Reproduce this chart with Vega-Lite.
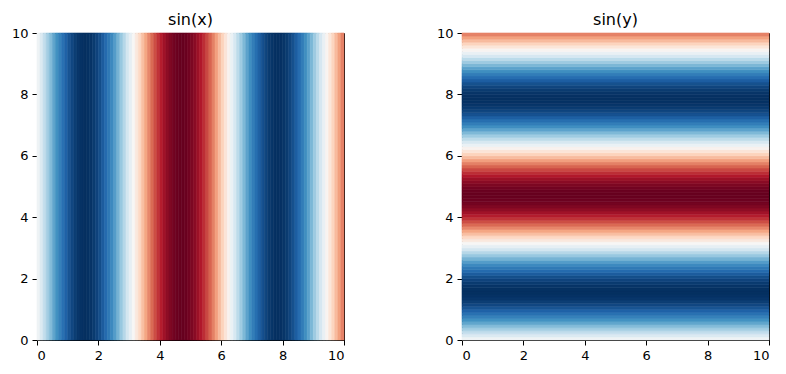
{
  "$schema": "https://vega.github.io/schema/vega-lite/v6.json",
  "background": "white",
  "padding": {"left": 10, "top": 11, "right": 18, "bottom": 8},
  "datasets": {
    "stripes": [
      {"a":0.0,"b":0.1,"v":0.050},{"a":0.1,"b":0.2,"v":0.149},{"a":0.2,"b":0.3,"v":0.247},{"a":0.3,"b":0.4,"v":0.343},{"a":0.4,"b":0.5,"v":0.435},
      {"a":0.5,"b":0.6,"v":0.523},{"a":0.6,"b":0.7,"v":0.605},{"a":0.7,"b":0.8,"v":0.682},{"a":0.8,"b":0.9,"v":0.751},{"a":0.9,"b":1.0,"v":0.813},
      {"a":1.0,"b":1.1,"v":0.867},{"a":1.1,"b":1.2,"v":0.913},{"a":1.2,"b":1.3,"v":0.949},{"a":1.3,"b":1.4,"v":0.976},{"a":1.4,"b":1.5,"v":0.993},
      {"a":1.5,"b":1.6,"v":1.000},{"a":1.6,"b":1.7,"v":0.997},{"a":1.7,"b":1.8,"v":0.984},{"a":1.8,"b":1.9,"v":0.961},{"a":1.9,"b":2.0,"v":0.929},
      {"a":2.0,"b":2.1,"v":0.887},{"a":2.1,"b":2.2,"v":0.837},{"a":2.2,"b":2.3,"v":0.778},{"a":2.3,"b":2.4,"v":0.711},{"a":2.4,"b":2.5,"v":0.638},
      {"a":2.5,"b":2.6,"v":0.558},{"a":2.6,"b":2.7,"v":0.472},{"a":2.7,"b":2.8,"v":0.382},{"a":2.8,"b":2.9,"v":0.287},{"a":2.9,"b":3.0,"v":0.190},
      {"a":3.0,"b":3.1,"v":0.091},{"a":3.1,"b":3.2,"v":-0.008},{"a":3.2,"b":3.3,"v":-0.108},{"a":3.3,"b":3.4,"v":-0.207},{"a":3.4,"b":3.5,"v":-0.303},
      {"a":3.5,"b":3.6,"v":-0.397},{"a":3.6,"b":3.7,"v":-0.487},{"a":3.7,"b":3.8,"v":-0.572},{"a":3.8,"b":3.9,"v":-0.651},{"a":3.9,"b":4.0,"v":-0.724},
      {"a":4.0,"b":4.1,"v":-0.789},{"a":4.1,"b":4.2,"v":-0.846},{"a":4.2,"b":4.3,"v":-0.895},{"a":4.3,"b":4.4,"v":-0.935},{"a":4.4,"b":4.5,"v":-0.966},
      {"a":4.5,"b":4.6,"v":-0.987},{"a":4.6,"b":4.7,"v":-0.998},{"a":4.7,"b":4.8,"v":-0.999},{"a":4.8,"b":4.9,"v":-0.991},{"a":4.9,"b":5.0,"v":-0.972},
      {"a":5.0,"b":5.1,"v":-0.944},{"a":5.1,"b":5.2,"v":-0.906},{"a":5.2,"b":5.3,"v":-0.859},{"a":5.3,"b":5.4,"v":-0.803},{"a":5.4,"b":5.5,"v":-0.739},
      {"a":5.5,"b":5.6,"v":-0.667},{"a":5.6,"b":5.7,"v":-0.589},{"a":5.7,"b":5.8,"v":-0.505},{"a":5.8,"b":5.9,"v":-0.416},{"a":5.9,"b":6.0,"v":-0.323},
      {"a":6.0,"b":6.1,"v":-0.231},{"a":6.1,"b":6.2,"v":-0.133},{"a":6.2,"b":6.3,"v":-0.033},{"a":6.3,"b":6.4,"v":0.067},{"a":6.4,"b":6.5,"v":0.166},
      {"a":6.5,"b":6.6,"v":0.264},{"a":6.6,"b":6.7,"v":0.359},{"a":6.7,"b":6.8,"v":0.450},{"a":6.8,"b":6.9,"v":0.537},{"a":6.9,"b":7.0,"v":0.619},
      {"a":7.0,"b":7.1,"v":0.694},{"a":7.1,"b":7.2,"v":0.762},{"a":7.2,"b":7.3,"v":0.823},{"a":7.3,"b":7.4,"v":0.876},{"a":7.4,"b":7.5,"v":0.919},
      {"a":7.5,"b":7.6,"v":0.954},{"a":7.6,"b":7.7,"v":0.979},{"a":7.7,"b":7.8,"v":0.995},{"a":7.8,"b":7.9,"v":1.000},{"a":7.9,"b":8.0,"v":0.995},
      {"a":8.0,"b":8.1,"v":0.981},{"a":8.1,"b":8.2,"v":0.957},{"a":8.2,"b":8.3,"v":0.923},{"a":8.3,"b":8.4,"v":0.879},{"a":8.4,"b":8.5,"v":0.828},
      {"a":8.5,"b":8.6,"v":0.767},{"a":8.6,"b":8.7,"v":0.699},{"a":8.7,"b":8.8,"v":0.624},{"a":8.8,"b":8.9,"v":0.543},{"a":8.9,"b":9.0,"v":0.457},
      {"a":9.0,"b":9.1,"v":0.366},{"a":9.1,"b":9.2,"v":0.271},{"a":9.2,"b":9.3,"v":0.173},{"a":9.3,"b":9.4,"v":0.075},{"a":9.4,"b":9.5,"v":-0.025},
      {"a":9.5,"b":9.6,"v":-0.125},{"a":9.6,"b":9.7,"v":-0.223},{"a":9.7,"b":9.8,"v":-0.319},{"a":9.8,"b":9.9,"v":-0.412},{"a":9.9,"b":10.0,"v":-0.501}
    ]
  },
  "data": {"name": "stripes"},
  "config": {
    "view": {"stroke": "black", "strokeWidth": 1},
    "concat": {"spacing": 90},
    "axis": {
      "grid": false, "title": null,
      "labelFont": "DejaVu Sans", "labelFontSize": 13, "labelColor": "black",
      "tickColor": "black", "tickSize": 5, "labelPadding": 4,
      "domainColor": "black", "domainWidth": 1
    },
    "title": {"font": "DejaVu Sans", "fontSize": 16, "fontWeight": "normal", "color": "black"}
  },
  "hconcat": [
    {
      "width": 307, "height": 307,
      "title": {"text": "sin(x)", "offset": -1},
      "mark": {"type": "rect", "strokeWidth": 0.6},
      "encoding": {
        "x": {"field": "a", "type": "quantitative", "scale": {"domain": [0, 10], "nice": false}, "axis": {"values": [0, 2, 4, 6, 8, 10]}},
        "x2": {"field": "b"},
        "y": {"datum": 0, "type": "quantitative", "scale": {"domain": [0, 10], "nice": false}, "axis": {"values": [0, 2, 4, 6, 8, 10]}},
        "y2": {"datum": 10},
        "color": {"field": "v", "type": "quantitative", "legend": null,
          "scale": {"type": "linear", "interpolate": "rgb", "domain": [-1, -0.8, -0.6, -0.4, -0.2, 0, 0.2, 0.4, 0.6, 0.8, 1],
            "range": ["#67001f", "#b2182b", "#d6604d", "#f4a582", "#fddbc7", "#f7f7f7", "#d1e5f0", "#92c5de", "#4393c3", "#2166ac", "#053061"]}},
        "stroke": {"field": "v", "type": "quantitative", "legend": null,
          "scale": {"type": "linear", "interpolate": "rgb", "domain": [-1, -0.8, -0.6, -0.4, -0.2, 0, 0.2, 0.4, 0.6, 0.8, 1],
            "range": ["#67001f", "#b2182b", "#d6604d", "#f4a582", "#fddbc7", "#f7f7f7", "#d1e5f0", "#92c5de", "#4393c3", "#2166ac", "#053061"]}}
      }
    },
    {
      "width": 307, "height": 307,
      "title": {"text": "sin(y)", "offset": -1},
      "mark": {"type": "rect", "strokeWidth": 0.6},
      "encoding": {
        "y": {"field": "a", "type": "quantitative", "scale": {"domain": [0, 10], "nice": false}, "axis": {"values": [0, 2, 4, 6, 8, 10]}},
        "y2": {"field": "b"},
        "x": {"datum": 0, "type": "quantitative", "scale": {"domain": [0, 10], "nice": false}, "axis": {"values": [0, 2, 4, 6, 8, 10]}},
        "x2": {"datum": 10},
        "color": {"field": "v", "type": "quantitative", "legend": null,
          "scale": {"type": "linear", "interpolate": "rgb", "domain": [-1, -0.8, -0.6, -0.4, -0.2, 0, 0.2, 0.4, 0.6, 0.8, 1],
            "range": ["#67001f", "#b2182b", "#d6604d", "#f4a582", "#fddbc7", "#f7f7f7", "#d1e5f0", "#92c5de", "#4393c3", "#2166ac", "#053061"]}},
        "stroke": {"field": "v", "type": "quantitative", "legend": null,
          "scale": {"type": "linear", "interpolate": "rgb", "domain": [-1, -0.8, -0.6, -0.4, -0.2, 0, 0.2, 0.4, 0.6, 0.8, 1],
            "range": ["#67001f", "#b2182b", "#d6604d", "#f4a582", "#fddbc7", "#f7f7f7", "#d1e5f0", "#92c5de", "#4393c3", "#2166ac", "#053061"]}}
      }
    }
  ]
}
